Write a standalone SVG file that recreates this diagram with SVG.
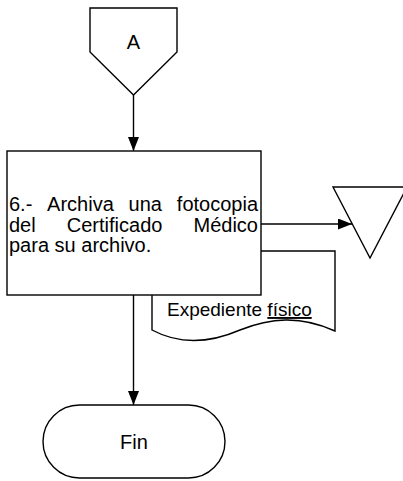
<svg xmlns="http://www.w3.org/2000/svg" width="403" height="481" viewBox="0 0 403 481">
<style>
.s{fill:#fff;stroke:#000;stroke-width:1.4}
.t{font-family:"Liberation Sans",Arial,sans-serif;font-size:20px;fill:#000}
.e{font-size:19px}
.c{fill:none;stroke:#000;stroke-width:1.4}
</style>
<defs>
<marker id="ah" markerUnits="userSpaceOnUse" markerWidth="14" markerHeight="11" refX="14" refY="5.5" orient="auto">
<path d="M0,0 L14,5.5 L0,11 z" fill="#000"/>
</marker>
</defs>
<rect width="403" height="481" fill="#fff"/>
<g id="offpage">
<polygon class="s" points="90,8 177,8 177,52 133.5,95 90,52"/>
<text class="t" x="133.5" y="49" text-anchor="middle">A</text>
</g>
<g id="document">
<path class="s" d="M152,251 L335,251 L335,331 C300,315 270,318 240,330 C210,343 180,345 152,330 Z"/>
<text class="t e" x="167" y="316">Expediente <tspan text-decoration="underline">físico</tspan></text>
</g>
<g id="process">
<rect class="s" x="7" y="151" width="254" height="144"/>
<text class="t" y="211"><tspan x="9">6.-</tspan><tspan x="47.1">Archiva</tspan><tspan x="128.6">una</tspan></text>
<text class="t" x="258" y="211" text-anchor="end">fotocopia</text>
<text class="t" y="232"><tspan x="9">del</tspan><tspan x="66.8">Certificado</tspan></text>
<text class="t" x="258" y="232" text-anchor="end">Médico</text>
<text class="t" x="9" y="252">para su archivo.</text>
</g>
<g id="storage">
<polygon class="s" points="333,187 407,187 370,258"/>
</g>
<g id="fin">
<rect class="s" x="43" y="405" width="182" height="73" rx="36.5" ry="36.5"/>
<text class="t" x="134" y="449" text-anchor="middle">Fin</text>
</g>
<g id="connectors">
<line class="c" x1="133.5" y1="95" x2="133.5" y2="151" marker-end="url(#ah)"/>
<line class="c" x1="261" y1="224" x2="352" y2="224" marker-end="url(#ah)"/>
<line class="c" x1="133.5" y1="295" x2="133.5" y2="405" marker-end="url(#ah)"/>
</g>
</svg>
